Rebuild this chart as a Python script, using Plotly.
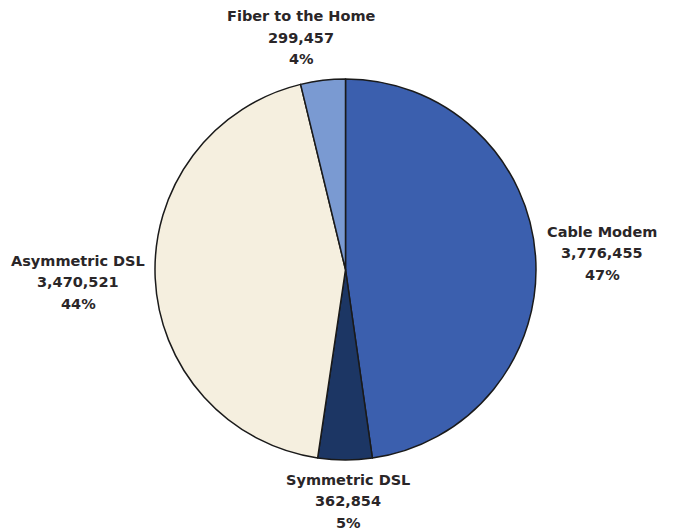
import plotly.graph_objects as go

# Broadband connections by technology
categories = ["Cable Modem", "Symmetric DSL", "Asymmetric DSL", "Fiber to the Home"]
connections = [3776455, 362854, 3470521, 299457]
share_labels = ["47%", "5%", "44%", "4%"]
colors = ["#3B5FAE", "#1C3664", "#F5EFDF", "#7A9AD2"]

W, H = 677, 532

fig = go.Figure(
    go.Pie(
        labels=categories,
        values=connections,
        sort=False,
        direction="clockwise",
        rotation=0,
        marker=dict(colors=colors, line=dict(color="#1a1a1a", width=1.5)),
        textinfo="none",
        hoverinfo="label+value+percent",
        showlegend=False,
        domain=dict(x=[155 / W, 536 / W], y=[1 - 461 / H, 1 - 78 / H]),
    )
)

# label anchor points (pixel centres of each text block)
label_pos = {
    "Cable Modem": (602, 253),
    "Symmetric DSL": (348, 501),
    "Asymmetric DSL": (78, 282),
    "Fiber to the Home": (301, 38),
}

annotations = []
for name, val, pct in zip(categories, connections, share_labels):
    cx, cy = label_pos[name]
    lines = [name, f"{val:,}", pct]
    for i, line in enumerate(lines):
        annotations.append(
            dict(
                x=cx / W,
                y=1 - (cy + (i - 1) * 21.5) / H,
                xref="paper",
                yref="paper",
                text=f"<b>{line}</b>",
                showarrow=False,
                xanchor="center",
                yanchor="middle",
                font=dict(family="DejaVu Sans", size=14.5, color="#2a2628"),
            )
        )

fig.update_layout(
    width=W,
    height=H,
    margin=dict(l=0, r=0, t=0, b=0),
    paper_bgcolor="white",
    plot_bgcolor="white",
    annotations=annotations,
)

fig.write_html("out.html")
